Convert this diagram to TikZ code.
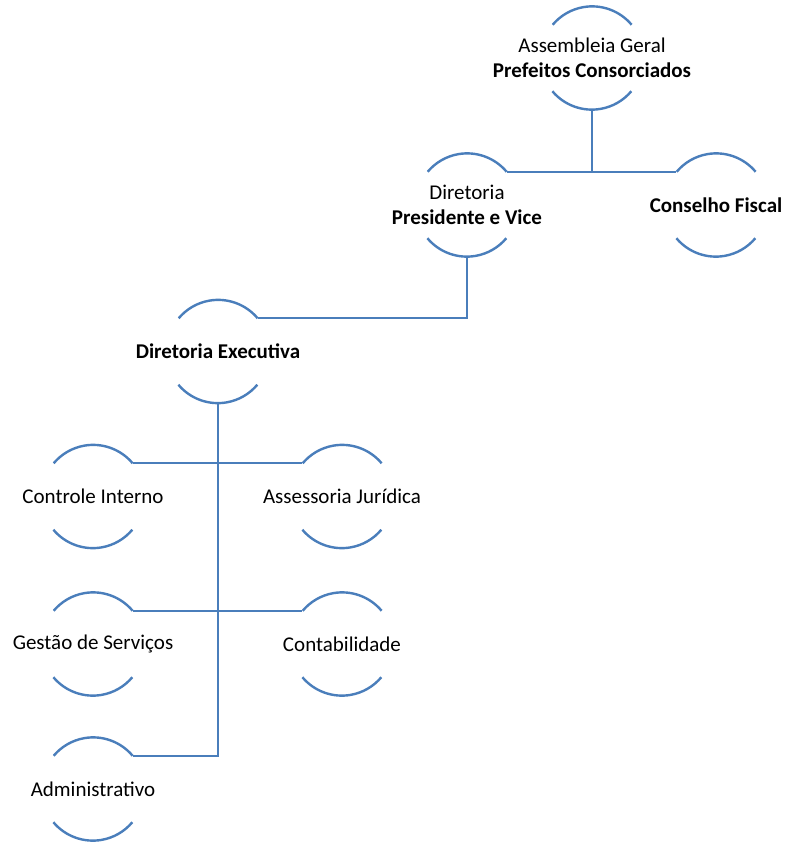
\documentclass[tikz,border=0pt]{standalone}
\usepackage{fontspec}
\setmainfont{Carlito}
\definecolor{orgblue}{RGB}{74,126,187}
\tikzset{
  unit/.style={circle, draw=none, minimum size=103pt, inner sep=0pt},
  rim/.style={orgblue, line width=2.4pt},
  conn/.style={orgblue, line width=2.4pt},
  lbl/.style={align=center, font=\fontsize{21}{25}\selectfont}
}
\newcommand{\rims}[1]{%
  \draw[rim] (#1.40) arc (40:140:51.5pt);
  \draw[rim] (#1.220) arc (220:320:51.5pt);}
\begin{document}
\begin{tikzpicture}[x=1pt,y=1pt]
  \useasboundingbox (0,0) rectangle (787,-843);
  \node[unit, label={[lbl]center:Assembleia Geral\\\textbf{Prefeitos Consorciados}}] (ag) at (592,-58) {};
  \node[unit, label={[lbl]center:Diretoria\\\textbf{Presidente e Vice}}] (dir) at (467,-205) {};
  \node[unit, label={[lbl]center:\textbf{Conselho Fiscal}}] (cf) at (716,-205) {};
  \node[unit, label={[lbl]center:\textbf{Diretoria Executiva}}] (de) at (218,-351.5) {};
  \node[unit, label={[lbl]center:Controle Interno}] (ci) at (93,-496.5) {};
  \node[unit, label={[lbl]center:Assessoria Jurídica}] (aj) at (342,-496.5) {};
  \node[unit, label={[lbl]center:Gestão de Serviços}] (gs) at (93,-644) {};
  \node[unit, label={[lbl]center:Contabilidade}] (ct) at (342,-644) {};
  \node[unit, label={[lbl]center:Administrativo}] (adm) at (93,-789) {};
  \foreach \n in {ag,dir,cf,de,ci,aj,gs,ct,adm} {\rims{\n}}
  \draw[conn] (ag.south) -- (ag.south |- dir.40);
  \draw[conn] (dir.40) -- (cf.140);
  \draw[conn] (dir.south) -- (dir.south |- de.40) -- (de.40);
  \draw[conn] (de.south) -- (de.south |- adm.40) -- (adm.40);
  \draw[conn] (ci.40) -- (aj.140);
  \draw[conn] (gs.40) -- (ct.140);
\end{tikzpicture}
\end{document}
